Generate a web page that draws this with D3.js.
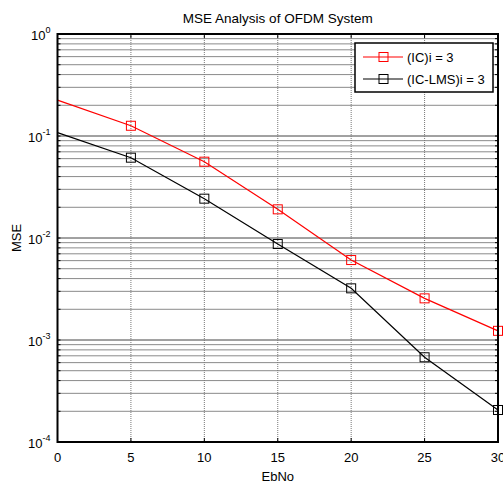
<!DOCTYPE html>
<html>
<head>
<meta charset="utf-8">
<script src="https://cdn.jsdelivr.net/npm/d3@7"></script>
<style>
  body { margin: 0; background: #fff; }
  svg { font-family: "Liberation Sans", Arial, sans-serif; }
</style>
</head>
<body>
<div id="chart"></div>
<script>
// chart values
var ebno = [0, 5, 10, 15, 20, 25, 30];
var mseIC = [0.225, 0.126, 0.056, 0.0191, 0.00608, 0.00256, 0.00123];
var mseICLMS = [0.108, 0.0613, 0.0243, 0.00873, 0.00321, 0.000677, 0.000206];
var xTicks = [0, 5, 10, 15, 20, 25, 30];
var yDecades = [0, -1, -2, -3, -4];
var seriesNames = ["(IC)i = 3", "(IC-LMS)i = 3"];
var seriesColors = ["#ff0000", "#000000"];

var width = 503, height = 483;
var margin = {top: 34, right: 5, bottom: 41, left: 57.5};
var plotW = width - margin.left - margin.right;
var plotH = height - margin.top - margin.bottom;

var svg = d3.select('#chart').append('svg')
    .attr('width', width)
    .attr('height', height);

var x = d3.scaleLinear().domain([0, 30]).range([0, plotW]);
var y = d3.scaleLog().domain([1e-4, 1]).range([plotH, 0]);

var g = svg.append('g')
    .attr('transform', 'translate(' + margin.left + ',' + margin.top + ')');

// minor values for log grid
var minorVals = [];
for (var e = -4; e < 0; e += 1) {
    for (var k = 2; k <= 9; k += 1) {
        minorVals.push(k * Math.pow(10, e));
    }
}
var majorVals = yDecades.map(d => Math.pow(10, d));

// horizontal grid
g.selectAll('.hminor').data(minorVals).join('line')
    .attr('x1', 0).attr('x2', plotW)
    .attr('y1', d => y(d)).attr('y2', d => y(d))
    .attr('stroke', '#8a8a8a').attr('stroke-width', 1);
g.selectAll('.hmajor').data(majorVals).join('line')
    .attr('x1', 0).attr('x2', plotW)
    .attr('y1', d => y(d)).attr('y2', d => y(d))
    .attr('stroke', '#444').attr('stroke-width', 1);

// vertical grid (dotted)
g.selectAll('.vgrid').data(xTicks.slice(1, -1)).join('line')
    .attr('x1', d => x(d)).attr('x2', d => x(d))
    .attr('y1', 0).attr('y2', plotH)
    .attr('stroke', '#777').attr('stroke-width', 1)
    .attr('stroke-dasharray', '1,1');

// minor ticks left and right
g.selectAll('.ltick').data(minorVals.concat(majorVals)).join('line')
    .attr('x1', 0).attr('x2', 3)
    .attr('y1', d => y(d)).attr('y2', d => y(d))
    .attr('stroke', '#000');
g.selectAll('.rtick').data(minorVals.concat(majorVals)).join('line')
    .attr('x1', plotW).attr('x2', plotW - 3)
    .attr('y1', d => y(d)).attr('y2', d => y(d))
    .attr('stroke', '#000');
// x ticks top and bottom
g.selectAll('.btick').data(xTicks).join('line')
    .attr('x1', d => x(d)).attr('x2', d => x(d))
    .attr('y1', plotH).attr('y2', plotH - 4)
    .attr('stroke', '#000');
g.selectAll('.ttick').data(xTicks).join('line')
    .attr('x1', d => x(d)).attr('x2', d => x(d))
    .attr('y1', 0).attr('y2', 4)
    .attr('stroke', '#000');

// lines and markers
var line = d3.line().x((d, i) => x(ebno[i])).y(d => y(d));
[mseIC, mseICLMS].forEach(function(vals, si) {
    g.append('path').datum(vals)
        .attr('d', line)
        .attr('fill', 'none')
        .attr('stroke', seriesColors[si])
        .attr('stroke-width', 1.2);
    g.selectAll('.m' + si).data(vals.slice(1)).join('rect')
        .attr('x', (d, i) => x(ebno[i + 1]) - 4.5)
        .attr('y', d => y(d) - 4.5)
        .attr('width', 9).attr('height', 9)
        .attr('fill', 'none')
        .attr('stroke', seriesColors[si])
        .attr('stroke-width', 1);
});

// axis box
g.append('rect')
    .attr('x', 0).attr('y', 0)
    .attr('width', plotW).attr('height', plotH)
    .attr('fill', 'none')
    .attr('stroke', '#000').attr('stroke-width', 2);

// x tick labels
g.selectAll('.xlab').data(xTicks).join('text')
    .attr('x', d => x(d)).attr('y', plotH + 20)
    .attr('text-anchor', 'middle')
    .attr('font-size', 13)
    .text(d => d);

// y tick labels: 10 with superscript exponent
var ylab = g.selectAll('.ylab').data(yDecades).join('text')
    .attr('x', -7).attr('y', d => y(Math.pow(10, d)) + 6)
    .attr('text-anchor', 'end')
    .attr('font-size', 13);
ylab.append('tspan').text('10');
ylab.append('tspan').attr('dy', -7).attr('font-size', 9).text(d => d);

// title and axis labels
svg.append('text')
    .attr('x', margin.left + plotW / 2).attr('y', 23)
    .attr('text-anchor', 'middle').attr('font-size', 13.5)
    .text('MSE Analysis of OFDM System');
svg.append('text')
    .attr('x', margin.left + plotW / 2).attr('y', 481)
    .attr('text-anchor', 'middle').attr('font-size', 13)
    .text('EbNo');
svg.append('text')
    .attr('transform', 'translate(21,' + (margin.top + plotH / 2) + ') rotate(-90)')
    .attr('text-anchor', 'middle').attr('font-size', 13)
    .text('MSE');

// legend
var leg = svg.append('g').attr('transform', 'translate(355,43)');
leg.append('rect')
    .attr('width', 138).attr('height', 49)
    .attr('fill', '#fff').attr('stroke', '#000').attr('stroke-width', 1.5);
seriesNames.forEach(function(name, i) {
    var ly = 14 + i * 22;
    leg.append('line')
        .attr('x1', 8).attr('x2', 48).attr('y1', ly).attr('y2', ly)
        .attr('stroke', seriesColors[i]).attr('stroke-width', 1.2);
    leg.append('rect')
        .attr('x', 24).attr('y', ly - 4.5).attr('width', 9).attr('height', 9)
        .attr('fill', 'none').attr('stroke', seriesColors[i]);
    leg.append('text')
        .attr('x', 52).attr('y', ly + 5)
        .attr('font-size', 13)
        .text(name);
});
</script>
</body>
</html>
